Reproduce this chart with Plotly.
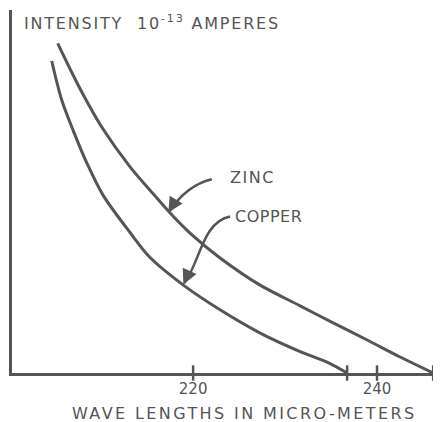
import plotly.graph_objects as go

# Data (wavelength in micro-meters, intensity in arbitrary units of 10^-13 A)
zinc_wl = [205.27, 206.61, 208.06, 210.20, 213.14, 215.68, 217.49, 220.03, 222.93, 227.29,
           231.64, 235.23, 238.93, 242.52, 246.11]
zinc_int = [90.8, 83.8, 76.6, 67.2, 56.8, 49.3, 44.1, 37.7, 31.7, 24.2,
            18.5, 13.8, 9.1, 4.4, 0.0]

copper_wl = [204.62, 205.71, 206.97, 208.43, 210.20, 213.14, 215.32, 218.94, 222.93, 227.29,
             231.64, 234.90, 236.75]
copper_int = [85.95, 75.2, 66.7, 57.9, 49.0, 38.7, 31.8, 24.2, 17.4, 11.0,
              5.9, 2.6, 0.0]

tick_vals = [220, 240]
tick_text = ["220", "240"]
axis_marks = [220, 240, 236.75, 246.11]

INK = "#555555"
FONT = "DejaVu Sans"

fig = go.Figure()
for wl, it in ((zinc_wl, zinc_int), (copper_wl, copper_int)):
    fig.add_trace(go.Scatter(x=wl, y=it, mode="lines",
                             line=dict(color=INK, width=3, shape="spline", smoothing=0.9),
                             hoverinfo="skip", showlegend=False))
fig.add_trace(go.Scatter(x=axis_marks, y=[0] * len(axis_marks), mode="markers",
                         marker=dict(symbol="line-ns", size=11, line=dict(color=INK, width=2.5)),
                         cliponaxis=False, hoverinfo="skip", showlegend=False))

# curved pointer lines
fig.add_shape(type="path", xref="x", yref="y",
              path="M 222.03,53.4 C 220.21,52.3 218.58,49.0 217.45,44.6",
              line=dict(color=INK, width=2.5))
fig.add_shape(type="path", xref="x", yref="y",
              path="M 224.02,43.1 C 221.0,41.6 220.76,30.6 219.05,24.8",
              line=dict(color=INK, width=2.5))

fig.add_annotation(x=217.31, y=44.2, xref="x", yref="y", text="", showarrow=True,
                   ax=6, ay=-10, arrowhead=2, arrowsize=1.2, arrowwidth=2.5, arrowcolor=INK)
fig.add_annotation(x=218.94, y=24.4, xref="x", yref="y", text="", showarrow=True,
                   ax=5, ay=-11, arrowhead=2, arrowsize=1.2, arrowwidth=2.5, arrowcolor=INK)

fig.add_annotation(x=223.8, y=53.8, xref="x", yref="y",
                   text='<span style="letter-spacing:1.5px">ZINC</span>', showarrow=False,
                   xanchor="left", yanchor="middle", font=dict(family=FONT, size=16, color=INK))
fig.add_annotation(x=224.35, y=43.1, xref="x", yref="y",
                   text='<span style="letter-spacing:0.5px">COPPER</span>', showarrow=False,
                   xanchor="left", yanchor="middle", font=dict(family=FONT, size=16, color=INK))

fig.add_annotation(x=10 / 429, y=1.0, xref="paper", yref="paper",
                   text='<span style="letter-spacing:1.8px">INTENSITY  10<sup>-13</sup> AMPERES</span>',
                   showarrow=False, xanchor="left", yanchor="top",
                   font=dict(family=FONT, size=16, color=INK))
fig.add_annotation(x=(244 - 12) / 429, y=0, xref="paper", yref="paper",
                   text='<span style="letter-spacing:2.4px">WAVE LENGTHS IN MICRO-METERS</span>',
                   showarrow=False, xanchor="center", yanchor="middle", yshift=-40,
                   font=dict(family=FONT, size=16, color=INK))

fig.update_xaxes(range=[200.3, 246.96], showgrid=False, zeroline=False,
                 showline=True, linecolor=INK, linewidth=3,
                 tickvals=tick_vals, ticktext=tick_text, ticks="",
                 tickfont=dict(family=FONT, size=15, color=INK))
fig.update_yaxes(range=[0, 100], showgrid=False, zeroline=False,
                 showline=True, linecolor=INK, linewidth=3,
                 showticklabels=False, ticks="")
# the page body adds an 8px offset, so the figure is sized to fit the window
fig.update_layout(width=433, height=414, margin=dict(l=4, r=0, t=2, b=49),
                  paper_bgcolor="white", plot_bgcolor="white")

fig.write_html("out.html")
